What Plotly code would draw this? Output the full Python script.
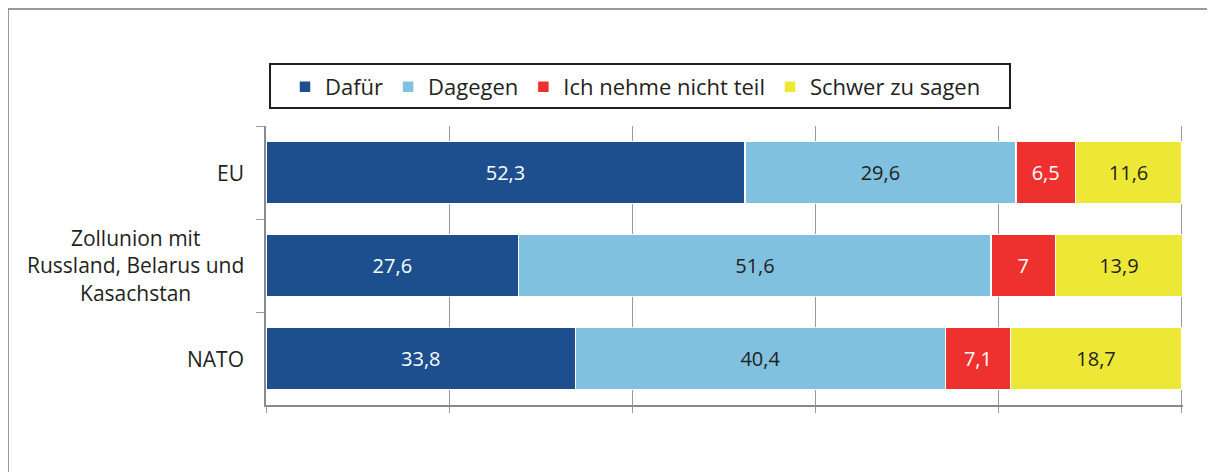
import plotly.graph_objects as go

categories = ["EU", "Zollunion mit<br>Russland, Belarus und<br>Kasachstan", "NATO"]
series_names = ["Dafür", "Dagegen", "Ich nehme nicht teil", "Schwer zu sagen"]
dafuer = [52.3, 27.6, 33.8]
dagegen = [29.6, 51.6, 40.4]
nicht_teil = [6.5, 7, 7.1]
schwer = [11.6, 13.9, 18.7]

colors = ["#1d4f8f", "#80c1df", "#ee312f", "#ede836"]
text_colors = ["white", "#231f20", "white", "#231f20"]

# the page body adds an 8px margin, so the figure is drawn 8px smaller
W, H = 1207, 464
L, R, T, B = 258, 32, 118, 67
pw, ph = W - L - R, H - T - B

fig = go.Figure()
for name, vals, col, tcol in zip(series_names, [dafuer, dagegen, nicht_teil, schwer], colors, text_colors):
    fig.add_trace(go.Bar(
        name=name,
        y=categories,
        x=vals,
        orientation="h",
        marker=dict(color=col, line=dict(color="white", width=1.5)),
        text=[f"{v:g}".replace(".", ",") for v in vals],
        textposition="inside",
        insidetextanchor="middle",
        constraintext="none",
        textfont=dict(color=tcol, size=20, family="Open Sans"),
        cliponaxis=False,
    ))

fig.update_layout(
    barmode="stack",
    bargap=0.33,
    width=W,
    height=H,
    margin=dict(l=L, r=R, t=T, b=B),
    paper_bgcolor="white",
    plot_bgcolor="white",
    font=dict(family="Open Sans", size=20, color="#231f20"),
    legend=dict(
        orientation="h",
        x=19 / pw, xanchor="left",
        y=1 + (T - 58) / ph, yanchor="top",
        borderwidth=0,
        bgcolor="rgba(0,0,0,0)",
        font=dict(size=22),
        itemwidth=30,
        traceorder="normal",
        itemclick=False,
    ),
)

fig.update_xaxes(
    range=[0, 100.15],
    tickvals=[0, 20, 40, 60, 80, 100],
    showgrid=True,
    gridcolor="#9a9a9a",
    gridwidth=1,
    showticklabels=False,
    ticks="outside",
    ticklen=6,
    tickcolor="#9a9a9a",
    showline=True,
    linecolor="#8a8a8a",
    linewidth=2,
    zeroline=False,
)
fig.update_yaxes(
    autorange="reversed",
    tickson="boundaries",
    ticks="outside",
    ticklen=8,
    tickcolor="#9a9a9a",
    showline=True,
    linecolor="#8a8a8a",
    linewidth=2,
    showticklabels=False,
)

# category labels, centred line by line
for c in categories:
    fig.add_annotation(x=0, xref="paper", y=c, yref="y", text=c, showarrow=False,
                       xanchor="right", align="center", xshift=-20,
                       font=dict(size=21, color="#231f20"))

# legend frame
fig.add_shape(type="rect", xref="paper", yref="paper",
              x0=4 / pw, x1=(1010 - 266) / pw,
              y0=1 + (T - 100) / ph, y1=1 + (T - 56) / ph,
              line=dict(color="#231f20", width=2))

# outer frame
fig.add_shape(type="rect", xref="paper", yref="paper",
              x0=-L / pw, x1=1.2, y0=-0.5, y1=1 + (T - 1) / ph,
              line=dict(color="#7a7a7a", width=1.5), layer="below")

fig.write_html("out.html")
